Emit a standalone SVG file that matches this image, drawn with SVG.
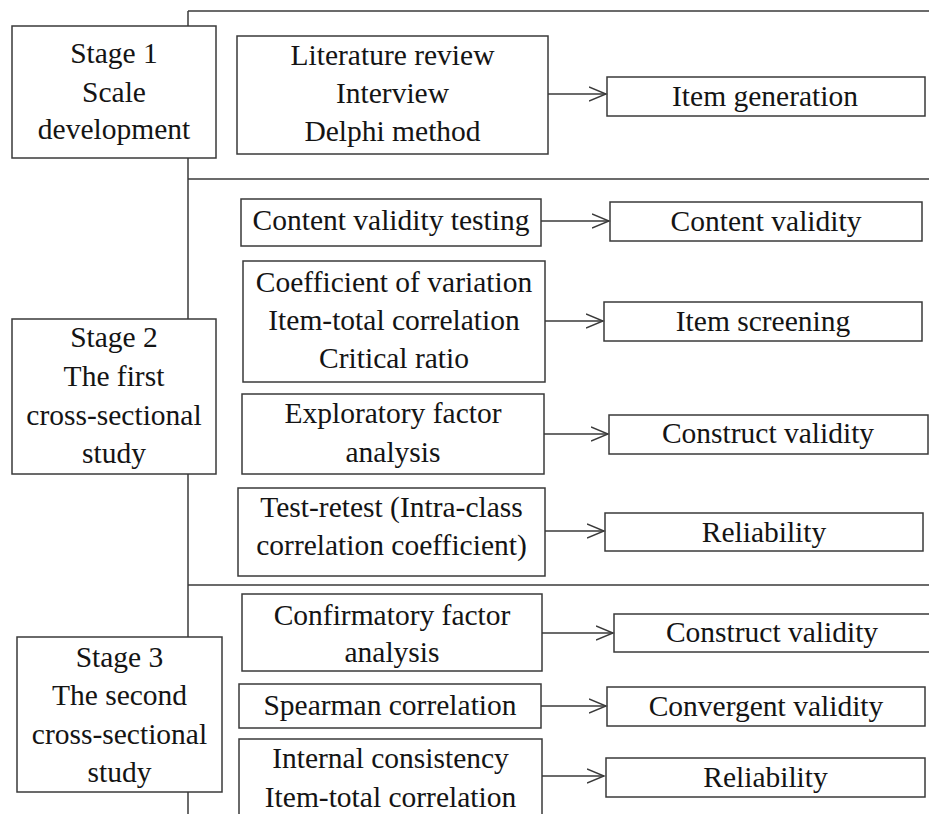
<svg xmlns="http://www.w3.org/2000/svg" width="929" height="814" viewBox="0 0 929 814">
<style>
.box{fill:#fff;stroke:#3a3a3a;stroke-width:1.5}
.frame{fill:none;stroke:#3a3a3a;stroke-width:1.5}
text{font-family:'Liberation Serif','Tinos','DejaVu Serif',serif;font-size:29.5px;fill:#141414;text-anchor:middle}
.c{stroke:#3a3a3a;stroke-width:1.5;fill:none}
</style>
<defs>
<marker id="ah" markerUnits="userSpaceOnUse" markerWidth="20" markerHeight="18" refX="17" refY="8" orient="auto" viewBox="0 0 20 16">
<path d="M0,1 L17,8 L0,15" fill="none" stroke="#3a3a3a" stroke-width="1.4"/>
</marker>
</defs>
<rect width="929" height="814" fill="#fff"/>
<g id="frame">
<line class="frame" x1="188" y1="11" x2="188" y2="814"/>
<line class="frame" x1="188" y1="11" x2="929" y2="11"/>
<line class="frame" x1="188" y1="179" x2="929" y2="179"/>
<line class="frame" x1="188" y1="585" x2="929" y2="585"/>
</g>
<g font-family="Liberation Serif, DejaVu Serif, serif">
<g id="stage1"><rect class="box" x="12" y="26" width="204" height="132"/>
<text x="114" y="63">Stage 1</text><text x="114" y="102">Scale</text><text x="114" y="139">development</text></g>
<g id="stage2"><rect class="box" x="12" y="319" width="204" height="155"/>
<text x="114" y="347">Stage 2</text><text x="114" y="386">The first</text><text x="114" y="425">cross-sectional</text><text x="114" y="463">study</text></g>
<g id="stage3"><rect class="box" x="17" y="637" width="205" height="155"/>
<text x="119.5" y="667">Stage 3</text><text x="119.5" y="705">The second</text><text x="119.5" y="744">cross-sectional</text><text x="119.5" y="782">study</text></g>

<g id="lit"><rect class="box" x="237" y="36" width="311" height="118"/>
<text x="392.5" y="65">Literature review</text><text x="392.5" y="103">Interview</text><text x="392.5" y="141">Delphi method</text></g>
<g id="itemgen"><rect class="box" x="607" y="77" width="318" height="39"/><text x="765" y="106">Item generation</text></g>

<g id="cvt"><rect class="box" x="241" y="199" width="300" height="47"/><text x="391" y="230">Content validity testing</text></g>
<g id="cv"><rect class="box" x="610" y="202" width="312" height="39"/><text x="766" y="231">Content validity</text></g>

<g id="coef"><rect class="box" x="243" y="261" width="302" height="121"/>
<text x="394" y="292">Coefficient of variation</text><text x="394" y="330">Item-total correlation</text><text x="394" y="368">Critical ratio</text></g>
<g id="screen"><rect class="box" x="604" y="302" width="318" height="39"/><text x="763" y="331">Item screening</text></g>

<g id="efa"><rect class="box" x="242" y="394" width="302" height="80"/>
<text x="393" y="423">Exploratory factor</text><text x="393" y="462">analysis</text></g>
<g id="cons1"><rect class="box" x="609" y="415" width="319" height="39"/><text x="768" y="443">Construct validity</text></g>

<g id="trt"><rect class="box" x="238" y="488" width="307" height="88"/>
<text x="391.5" y="517">Test-retest (Intra-class</text><text x="391.5" y="555">correlation coefficient)</text></g>
<g id="rel1"><rect class="box" x="605" y="513" width="318" height="38"/><text x="764" y="542">Reliability</text></g>

<g id="cfa"><rect class="box" x="242" y="594" width="300" height="77"/>
<text x="392" y="625">Confirmatory factor</text><text x="392" y="662">analysis</text></g>
<g id="cons2"><rect class="box" x="614" y="614" width="320" height="38"/><text x="772" y="642">Construct validity</text></g>

<g id="spear"><rect class="box" x="239" y="684" width="302" height="44"/><text x="390" y="715">Spearman correlation</text></g>
<g id="conv"><rect class="box" x="607" y="687" width="318" height="39"/><text x="766" y="716">Convergent validity</text></g>

<g id="ic"><rect class="box" x="239" y="739" width="303" height="85"/>
<text x="390.5" y="768">Internal consistency</text><text x="390.5" y="807">Item-total correlation</text></g>
<g id="rel2"><rect class="box" x="606" y="758" width="319" height="39"/><text x="765.5" y="787">Reliability</text></g>
</g>
<g id="connectors">
<line class="c" x1="548" y1="94" x2="606" y2="94" marker-end="url(#ah)"/>
<line class="c" x1="541" y1="221" x2="609" y2="221" marker-end="url(#ah)"/>
<line class="c" x1="545" y1="321" x2="603" y2="321" marker-end="url(#ah)"/>
<line class="c" x1="544" y1="434" x2="608" y2="434" marker-end="url(#ah)"/>
<line class="c" x1="545" y1="531" x2="604" y2="531" marker-end="url(#ah)"/>
<line class="c" x1="542" y1="633" x2="613" y2="633" marker-end="url(#ah)"/>
<line class="c" x1="541" y1="706" x2="606" y2="706" marker-end="url(#ah)"/>
<line class="c" x1="542" y1="776" x2="604" y2="776" marker-end="url(#ah)"/>
</g>
</svg>
